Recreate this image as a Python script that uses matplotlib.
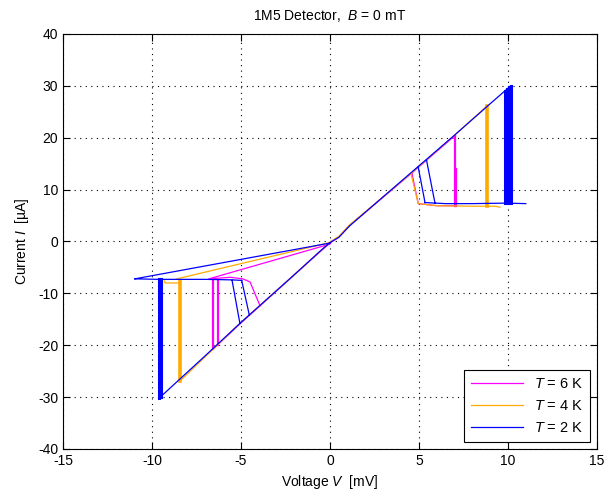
import numpy as np
import matplotlib
matplotlib.use("Agg")
import matplotlib.pyplot as plt

plt.rcParams['font.family'] = ['Liberation Sans', 'DejaVu Sans']
plt.rcParams['mathtext.fontset'] = 'custom'
plt.rcParams['mathtext.rm'] = 'Liberation Sans'
plt.rcParams['mathtext.it'] = 'Liberation Sans:italic'
plt.rcParams['axes.unicode_minus'] = False

nan = np.nan

# T = 6 K (thin traces, NaN separates pieces)
v_6k = [-6.55, -5.0, -3.93, -2.0, -0.5, 0.0, 0.5, 1.1, 4.6, 7.05, nan,
        4.6, 4.96, 6.0, 7.05, nan,
        -6.74, -5.6, -4.9, -4.49, -3.93, nan,
        -6.8, 0.0]
i_6k = [-20.7, -15.7, -12.4, -6.4, -1.8, -0.3, 0.9, 3.1, 13.2, 20.5, nan,
        13.2, 7.3, 6.9, 6.9, nan,
        -7.2, -6.9, -7.2, -7.8, -12.4, nan,
        -7.2, -0.5]
# switching jumps 6 K
jv_6k = [7.0, 7.0, nan, 7.08, 7.08, nan, -6.55, -6.55, nan, -6.27, -6.27]
ji_6k = [20.4, 6.9, nan, 14.0, 6.9, nan, -7.2, -20.7, nan, -7.4, -19.9]

# T = 4 K
v_4k = [-8.4, -5.0, -2.0, -0.5, 0.0, 0.5, 1.1, 4.55, 7.0, 8.85, nan,
        4.55, 4.96, 6.0, 8.0, 9.3, 9.55, nan,
        -9.3, -9.27, -8.5, -8.4, nan,
        -8.6, 0.0]
i_4k = [-26.8, -15.6, -6.4, -1.7, -0.1, 1.0, 3.2, 13.1, 20.5, 26.2, nan,
        13.1, 7.3, 6.9, 6.8, 6.8, 6.6, nan,
        -7.6, -8.0, -8.0, -7.6, nan,
        -7.2, -0.2]
jv_4k = [8.85, 8.85, nan, -8.4, -8.4]
ji_4k = [26.2, 6.8, nan, -7.6, -26.8]

# T = 2 K
v_2k = [-9.6, -7.0, -5.0, -2.0, -0.5, 0.0, 0.5, 1.1, 4.5, 7.0, 8.85, 10.15, nan,
        5.34, 6.5, 8.0, 9.9, 11.0, nan,
        4.96, 5.34, nan,
        5.43, 5.9, nan,
        -10.96, -9.6, -7.0, -5.5, -4.96, nan,
        -5.5, -5.06, nan,
        -4.96, -4.53, nan,
        -10.96, 0.0]
i_2k = [-30.2, -22.0, -15.6, -6.4, -1.7, -0.2, 0.8, 3.0, 13.1, 20.5, 26.1, 30.0, nan,
        7.5, 7.3, 7.3, 7.4, 7.3, nan,
        14.3, 7.5, nan,
        15.6, 7.4, nan,
        -7.2, -7.3, -7.3, -7.4, -7.5, nan,
        -7.5, -15.8, nan,
        -7.5, -14.2, nan,
        -7.2, -0.3]
jv_2k = [9.85, 9.85, nan, 9.95, 9.95, nan, 10.05, 10.05, nan, 10.15, 10.15, nan,
         -9.62, -9.62, nan, -9.52, -9.52]
ji_2k = [29.1, 7.4, nan, 29.4, 7.4, nan, 29.7, 7.4, nan, 30.0, 7.4, nan,
         -7.3, -30.2, nan, -7.3, -29.9]

labels = [r'$\mathit{T}$ = 6 K', r'$\mathit{T}$ = 4 K', r'$\mathit{T}$ = 2 K']
colors = ['#ff00ff', '#ffaa00', '#0000ff']
jump_lw = [1.6, 2.6, 2.2]

fig = plt.figure(figsize=(6.11, 4.97), dpi=100)
ax = fig.add_axes([0.1031, 0.0966, 0.8739, 0.835])

traces = [(v_6k, i_6k, jv_6k, ji_6k), (v_4k, i_4k, jv_4k, ji_4k), (v_2k, i_2k, jv_2k, ji_2k)]
for (v, i, jv, ji), c, lab, lw in zip(traces, colors, labels, jump_lw):
    ax.plot(v, i, color=c, lw=0.9, label=lab)
    ax.plot(jv, ji, color=c, lw=lw)

ax.set_xlim(-15, 15)
ax.set_ylim(-40, 40)
ax.set_xticks(np.arange(-15, 16, 5))
ax.set_yticks(np.arange(-40, 41, 10))
ax.grid(True, color='black', linestyle=(0, (1, 4)), linewidth=0.8)
ax.tick_params(direction='in', top=True, right=True, labelsize=10, length=5)
for s in ax.spines.values():
    s.set_linewidth(0.8)

ax.set_xlabel(r'Voltage $\mathit{V}$  [mV]', fontsize=10, labelpad=4)
ax.set_ylabel(r'Current $\mathit{I}$  [µA]', fontsize=10, labelpad=5)
ax.set_title(r'1M5 Detector,  $\mathit{B}$ = 0 mT', fontsize=10, pad=10)

leg = ax.legend(loc='lower right', fontsize=10.5, handlelength=3.6, handletextpad=0.7,
                labelspacing=0.55, borderpad=0.5, borderaxespad=0.45,
                fancybox=False, framealpha=1)
leg.get_frame().set_edgecolor('black')
leg.get_frame().set_linewidth(0.8)

fig.savefig('out.png', dpi=100)
